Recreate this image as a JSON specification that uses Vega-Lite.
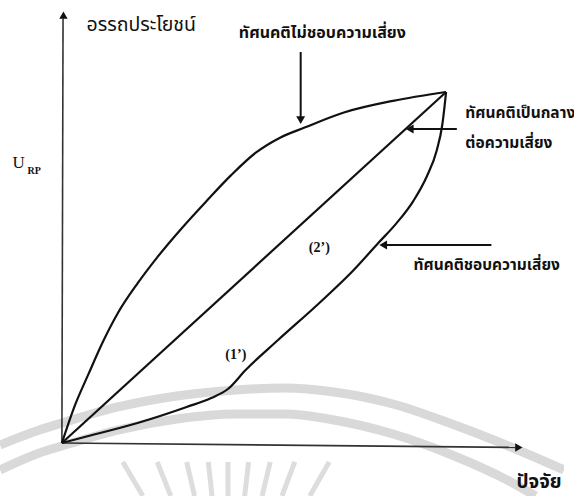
{
  "$schema": "https://vega.github.io/schema/vega-lite/v6.json",
  "width": 574,
  "height": 496,
  "autosize": {"type": "fit", "contains": "padding"},
  "padding": 0,
  "background": "white",
  "config": {"view": {"stroke": null}},
  "datasets": {
    "wm": [
      {"id": "a1", "x": -1.611, "y": -0.057}, {"id": "a1", "x": -0.588, "y": 0.37}, {"id": "a1", "x": 0, "y": 0.57},
      {"id": "a1", "x": 1.458, "y": 1.026}, {"id": "a1", "x": 2.992, "y": 1.339}, {"id": "a1", "x": 4.527, "y": 1.51},
      {"id": "a1", "x": 5.806, "y": 1.567}, {"id": "a1", "x": 7.084, "y": 1.453}, {"id": "a1", "x": 8.619, "y": 1.111},
      {"id": "a1", "x": 10.153, "y": 0.541}, {"id": "a1", "x": 11.688, "y": -0.114}, {"id": "a1", "x": 13.069, "y": -0.769},
      {"id": "a2", "x": -1.611, "y": -0.769}, {"id": "a2", "x": -0.588, "y": -0.285}, {"id": "a2", "x": 0, "y": -0.085},
      {"id": "a2", "x": 1.458, "y": 0.37}, {"id": "a2", "x": 2.992, "y": 0.684}, {"id": "a2", "x": 4.527, "y": 0.826},
      {"id": "a2", "x": 5.806, "y": 0.826}, {"id": "a2", "x": 7.084, "y": 0.655}, {"id": "a2", "x": 8.619, "y": 0.256},
      {"id": "a2", "x": 10.153, "y": -0.342}, {"id": "a2", "x": 11.688, "y": -1.111}, {"id": "a2", "x": 12.327, "y": -1.51}
    ],
    "rays": [
      {"x": 1.586, "y": -0.541, "x2": 2.107, "y2": -1.51},
      {"x": 2.481, "y": -0.541, "x2": 2.834, "y2": -1.51},
      {"x": 3.248, "y": -0.541, "x2": 3.453, "y2": -1.51},
      {"x": 3.811, "y": -0.541, "x2": 3.908, "y2": -1.51},
      {"x": 4.322, "y": -0.541, "x2": 4.323, "y2": -1.51},
      {"x": 4.859, "y": -0.541, "x2": 4.757, "y2": -1.51},
      {"x": 5.422, "y": -0.541, "x2": 5.212, "y2": -1.51},
      {"x": 6.061, "y": -0.541, "x2": 5.729, "y2": -1.51},
      {"x": 6.957, "y": -0.541, "x2": 6.453, "y2": -1.51}
    ],
    "curves": [
      {"curve": "averse", "x": 0, "y": 0}, {"curve": "averse", "x": 0.307, "y": 0.982}, {"curve": "averse", "x": 0.691, "y": 1.961},
      {"curve": "averse", "x": 1.074, "y": 2.899}, {"curve": "averse", "x": 1.458, "y": 3.705}, {"curve": "averse", "x": 1.969, "y": 4.548},
      {"curve": "averse", "x": 2.481, "y": 5.29}, {"curve": "averse", "x": 3.12, "y": 6.121}, {"curve": "averse", "x": 3.76, "y": 6.889},
      {"curve": "averse", "x": 4.399, "y": 7.624}, {"curve": "averse", "x": 5.038, "y": 8.263}, {"curve": "averse", "x": 5.678, "y": 8.698},
      {"curve": "averse", "x": 6.317, "y": 8.986}, {"curve": "averse", "x": 7.34, "y": 9.416}, {"curve": "averse", "x": 8.619, "y": 9.749},
      {"curve": "averse", "x": 10, "y": 10},
      {"curve": "neutral", "x": 0, "y": 0}, {"curve": "neutral", "x": 10, "y": 10},
      {"curve": "loving", "x": 0, "y": 0}, {"curve": "loving", "x": 0.691, "y": 0.199}, {"curve": "loving", "x": 1.969, "y": 0.57},
      {"curve": "loving", "x": 3.248, "y": 1.026}, {"curve": "loving", "x": 3.887, "y": 1.282}, {"curve": "loving", "x": 4.322, "y": 1.538},
      {"curve": "loving", "x": 4.783, "y": 2.08}, {"curve": "loving", "x": 5.627, "y": 2.934}, {"curve": "loving", "x": 6.701, "y": 3.989},
      {"curve": "loving", "x": 7.596, "y": 4.929}, {"curve": "loving", "x": 8.235, "y": 5.698}, {"curve": "loving", "x": 8.7, "y": 6.25},
      {"curve": "loving", "x": 9.15, "y": 6.9}, {"curve": "loving", "x": 9.5, "y": 7.6}, {"curve": "loving", "x": 9.76, "y": 8.35},
      {"curve": "loving", "x": 9.9, "y": 9.06}, {"curve": "loving", "x": 9.955, "y": 9.544}, {"curve": "loving", "x": 10, "y": 10}
    ],
    "segs": [
      {"kind": "axis", "x": 0, "y": 0, "x2": 0.03, "y2": 12.1},
      {"kind": "axis", "x": 0, "y": 0, "x2": 11.8, "y2": -0.125},
      {"kind": "pointer", "x": 6.215, "y": 11.14, "x2": 6.215, "y2": 9.25},
      {"kind": "pointer", "x": 10.28, "y": 8.946, "x2": 9.1, "y2": 8.946},
      {"kind": "pointer", "x": 11.18, "y": 5.641, "x2": 8.4, "y2": 5.641}
    ],
    "heads": [
      {"dir": "up", "x": 0.04, "y": 12.19},
      {"dir": "right", "x": 11.893, "y": -0.128},
      {"dir": "down", "x": 6.215, "y": 9.2},
      {"dir": "left", "x": 9.054, "y": 8.946},
      {"dir": "left", "x": 8.363, "y": 5.641}
    ],
    "labels": [
      {"g": "title", "x": 0.639, "y": 11.91, "text": "อรรถประโยชน์"},
      {"g": "annc", "x": 6.78, "y": 11.68, "text": "ทัศนคติไม่ชอบความเสี่ยง"},
      {"g": "big", "x": 12.42, "y": -1.11, "text": "ปัจจัย"},
      {"g": "annl", "x": 10.5, "y": 9.4, "text": "ทัศนคติเป็นกลาง"},
      {"g": "annl", "x": 10.5, "y": 8.55, "text": "ต่อความเสี่ยง"},
      {"g": "annl", "x": 9.15, "y": 5.07, "text": "ทัศนคติชอบความเสี่ยง"},
      {"g": "num", "x": 6.7, "y": 5.556, "text": "(2’)"},
      {"g": "num", "x": 4.527, "y": 2.507, "text": "(1’)"},
      {"g": "U", "x": -1.125, "y": 7.977, "text": "U"},
      {"g": "sub", "x": -0.72, "y": 7.74, "text": "RP"}
    ]
  },
  "layer": [
    {
      "data": {"name": "wm"},
      "mark": {"type": "line", "color": "#d9d9d9", "strokeWidth": 9, "clip": true, "strokeCap": "butt", "interpolate": "monotone"},
      "encoding": {
        "x": {"field": "x", "type": "quantitative", "scale": {"domain": [-1.611, 13.069], "nice": false, "zero": false}, "axis": null},
        "y": {"field": "y", "type": "quantitative", "scale": {"domain": [-1.51, 12.621], "nice": false, "zero": false}, "axis": null},
        "detail": {"field": "id"}
      }
    },
    {
      "data": {"name": "rays"},
      "mark": {"type": "rule", "color": "#dddddd", "strokeWidth": 5, "clip": true},
      "encoding": {
        "x": {"field": "x", "type": "quantitative"},
        "y": {"field": "y", "type": "quantitative"},
        "x2": {"field": "x2"},
        "y2": {"field": "y2"}
      }
    },
    {
      "data": {"name": "segs"},
      "transform": [{"filter": "datum.kind === 'axis'"}],
      "mark": {"type": "rule", "color": "#333333", "strokeWidth": 1.6},
      "encoding": {
        "x": {"field": "x", "type": "quantitative"},
        "y": {"field": "y", "type": "quantitative"},
        "x2": {"field": "x2"},
        "y2": {"field": "y2"}
      }
    },
    {
      "data": {"name": "segs"},
      "transform": [{"filter": "datum.kind === 'pointer'"}],
      "mark": {"type": "rule", "color": "#111111", "strokeWidth": 2},
      "encoding": {
        "x": {"field": "x", "type": "quantitative"},
        "y": {"field": "y", "type": "quantitative"},
        "x2": {"field": "x2"},
        "y2": {"field": "y2"}
      }
    },
    {
      "data": {"name": "curves"},
      "mark": {"type": "line", "color": "#111111", "strokeWidth": 2.2, "interpolate": "monotone"},
      "encoding": {
        "x": {"field": "x", "type": "quantitative"},
        "y": {"field": "y", "type": "quantitative"},
        "detail": {"field": "curve"}
      }
    },
    {
      "data": {"name": "heads"},
      "transform": [{"filter": "datum.dir === 'up'"}],
      "mark": {"type": "point", "shape": "triangle-up", "filled": true, "color": "#111111", "size": 70, "opacity": 1},
      "encoding": {"x": {"field": "x", "type": "quantitative"}, "y": {"field": "y", "type": "quantitative"}}
    },
    {
      "data": {"name": "heads"},
      "transform": [{"filter": "datum.dir === 'right'"}],
      "mark": {"type": "point", "shape": "triangle-right", "filled": true, "color": "#111111", "size": 70, "opacity": 1},
      "encoding": {"x": {"field": "x", "type": "quantitative"}, "y": {"field": "y", "type": "quantitative"}}
    },
    {
      "data": {"name": "heads"},
      "transform": [{"filter": "datum.dir === 'down'"}],
      "mark": {"type": "point", "shape": "triangle-down", "filled": true, "color": "#111111", "size": 80, "opacity": 1},
      "encoding": {"x": {"field": "x", "type": "quantitative"}, "y": {"field": "y", "type": "quantitative"}}
    },
    {
      "data": {"name": "heads"},
      "transform": [{"filter": "datum.dir === 'left'"}],
      "mark": {"type": "point", "shape": "triangle-left", "filled": true, "color": "#111111", "size": 80, "opacity": 1},
      "encoding": {"x": {"field": "x", "type": "quantitative"}, "y": {"field": "y", "type": "quantitative"}}
    },
    {
      "data": {"name": "labels"},
      "transform": [{"filter": "datum.g === 'title'"}],
      "mark": {"type": "text", "align": "left", "baseline": "middle", "fontSize": 19.5, "font": "Noto Sans Thai, Noto Sans, DejaVu Sans, sans-serif", "color": "#111111"},
      "encoding": {"x": {"field": "x", "type": "quantitative"}, "y": {"field": "y", "type": "quantitative"}, "text": {"field": "text"}}
    },
    {
      "data": {"name": "labels"},
      "transform": [{"filter": "datum.g === 'annc'"}],
      "mark": {"type": "text", "align": "center", "baseline": "middle", "fontSize": 16, "fontWeight": "bold", "font": "Noto Sans Thai, Noto Sans, DejaVu Sans, sans-serif", "color": "#111111"},
      "encoding": {"x": {"field": "x", "type": "quantitative"}, "y": {"field": "y", "type": "quantitative"}, "text": {"field": "text"}}
    },
    {
      "data": {"name": "labels"},
      "transform": [{"filter": "datum.g === 'big'"}],
      "mark": {"type": "text", "align": "center", "baseline": "middle", "fontSize": 19, "fontWeight": "bold", "font": "Noto Sans Thai, Noto Sans, DejaVu Sans, sans-serif", "color": "#111111"},
      "encoding": {"x": {"field": "x", "type": "quantitative"}, "y": {"field": "y", "type": "quantitative"}, "text": {"field": "text"}}
    },
    {
      "data": {"name": "labels"},
      "transform": [{"filter": "datum.g === 'annl'"}],
      "mark": {"type": "text", "align": "left", "baseline": "middle", "fontSize": 15.5, "fontWeight": "bold", "font": "Noto Sans Thai, Noto Sans, DejaVu Sans, sans-serif", "color": "#111111"},
      "encoding": {"x": {"field": "x", "type": "quantitative"}, "y": {"field": "y", "type": "quantitative"}, "text": {"field": "text"}}
    },
    {
      "data": {"name": "labels"},
      "transform": [{"filter": "datum.g === 'num'"}],
      "mark": {"type": "text", "align": "center", "baseline": "middle", "fontSize": 14, "fontWeight": "bold", "font": "Liberation Serif, DejaVu Serif, serif", "color": "#111111"},
      "encoding": {"x": {"field": "x", "type": "quantitative"}, "y": {"field": "y", "type": "quantitative"}, "text": {"field": "text"}}
    },
    {
      "data": {"name": "labels"},
      "transform": [{"filter": "datum.g === 'U'"}],
      "mark": {"type": "text", "align": "center", "baseline": "middle", "fontSize": 17, "font": "Liberation Serif, DejaVu Serif, serif", "color": "#111111"},
      "encoding": {"x": {"field": "x", "type": "quantitative"}, "y": {"field": "y", "type": "quantitative"}, "text": {"field": "text"}}
    },
    {
      "data": {"name": "labels"},
      "transform": [{"filter": "datum.g === 'sub'"}],
      "mark": {"type": "text", "align": "center", "baseline": "middle", "fontSize": 10, "fontWeight": "bold", "font": "Liberation Serif, DejaVu Serif, serif", "color": "#111111"},
      "encoding": {"x": {"field": "x", "type": "quantitative"}, "y": {"field": "y", "type": "quantitative"}, "text": {"field": "text"}}
    }
  ]
}
